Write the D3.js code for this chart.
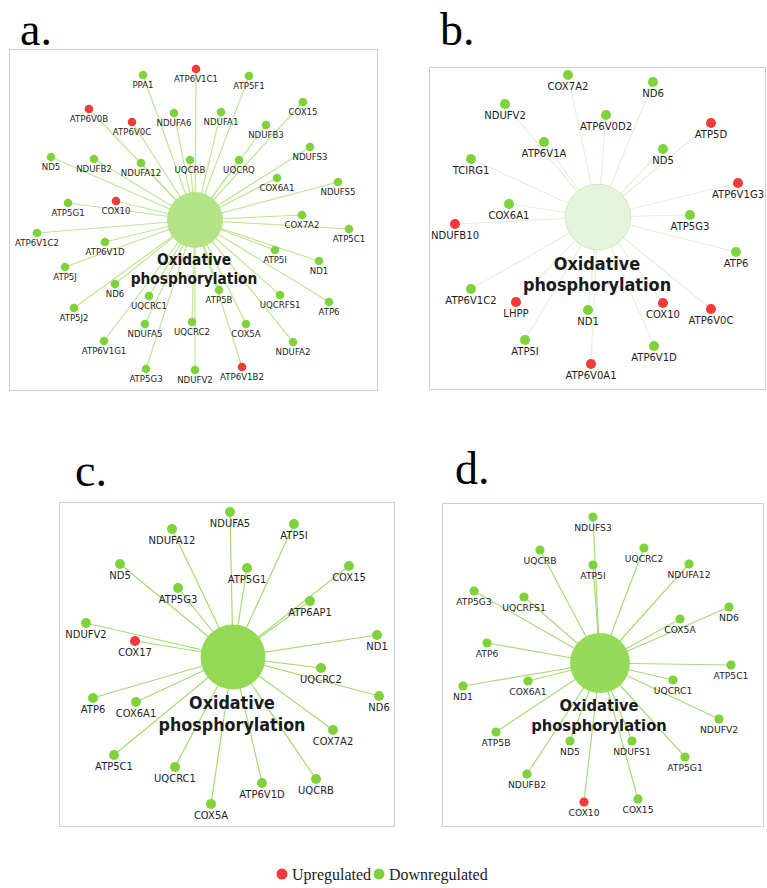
<!DOCTYPE html>
<html lang="en">
<head>
    <meta charset="utf-8">
    <title>Oxidative phosphorylation networks</title>
    <script type="text/javascript" src="https://cdnjs.cloudflare.com/ajax/libs/d3/7.8.5/d3.min.js"></script>
    <style>
        body { margin: 0; background: #fff; }
        svg { display: block; }
    </style>
</head>
<body>
<script type="text/javascript">
    // hub term shared by all four networks
    var hubName = ["Oxidative", "phosphorylation"];

    // a. gene nodes, offsets from the hub in layout units
    var genesA = ["ATP6V1C1", "PPA1", "ATP5F1", "COX15", "ATP6V0B", "NDUFA6", "NDUFA1", "ATP6V0C",
        "NDUFB3", "NDUFS3", "ND5", "NDUFB2", "NDUFA12", "UQCRB", "UQCRQ", "COX6A1", "NDUFS5",
        "ATP5G1", "COX10", "COX7A2", "ATP5C1", "ATP6V1C2", "ATP6V1D", "ATP5I", "ND1", "ATP5J",
        "ND6", "UQCRC1", "ATP5B", "UQCRFS1", "ATP6", "ATP5J2", "NDUFA5", "UQCRC2", "COX5A",
        "NDUFA2", "ATP6V1G1", "ATP5G3", "NDUFV2", "ATP6V1B2"];
    var dxA = [1, -52, 54, 108, -106, -21, 26, -63, 71, 115, -144, -101, -54, -5, 44, 82, 143,
        -127, -79, 107, 154, -158, -90, 80, 124, -130, -80, -46, 24, 85, 134, -121, -50, -3, 51,
        98, -91, -49, 0, 47];
    var dyA = [-151, -145, -144, -118, -111, -107, -108, -98, -95, -73, -63, -61, -57, -60, -60,
        -42, -38, -17, -19, -5, 9, 13, 22, 30, 41, 47, 64, 76, 70, 75, 82, 88, 104, 102, 104,
        122, 121, 149, 150, 147];
    var upA = ["ATP6V1C1", "ATP6V0B", "ATP6V0C", "COX10", "ATP6V1B2"];

    // b.
    var genesB = ["COX7A2", "NDUFV2", "ND6", "ATP6V0D2", "ATP6V1A", "ATP5D", "ND5", "TCIRG1",
        "ATP6V1G3", "COX6A1", "ATP5G3", "NDUFB10", "ATP6", "ATP6V1C2", "LHPP", "ND1", "COX10",
        "ATP6V0C", "ATP5I", "ATP6V1D", "ATP6V0A1"];
    var dxB = [-30, -93, 55, 8, -54, 113, 65, -127, 140, -89, 92, -143, 138, -127, -82, -10, 65,
        113, -73, 56, -7];
    var dyB = [-142, -113, -135, -102, -75, -94, -68, -58, -34, -13, -2, 7, 35, 72, 85, 93, 86,
        92, 123, 129, 147];
    var upB = ["ATP5D", "ATP6V1G3", "NDUFB10", "LHPP", "COX10", "ATP6V0C", "ATP6V0A1"];

    // c.
    var genesC = ["NDUFA5", "NDUFA12", "ATP5I", "ND5", "ATP5G1", "COX15", "ATP5G3", "ATP6AP1",
        "NDUFV2", "COX17", "ND1", "UQCRC2", "ND6", "ATP6", "COX6A1", "COX7A2", "ATP5C1",
        "UQCRC1", "UQCRB", "ATP6V1D", "COX5A"];
    var dxC = [-3, -61, 61, -113, 14, 116, -55, 77, -147, -98, 144, 88, 146, -140, -97, 100,
        -119, -58, 83, 29, -22];
    var dyC = [-145, -128, -133, -93, -89, -91, -69, -56, -34, -16, -22, 11, 39, 41, 45, 73, 98,
        110, 122, 126, 147];
    var upC = ["COX17"];

    // d.
    var genesD = ["NDUFS3", "UQCRB", "ATP5I", "UQCRC2", "NDUFA12", "ATP5G3", "UQCRFS1", "ND6",
        "COX5A", "ATP6", "ATP5C1", "ND1", "COX6A1", "UQCRC1", "NDUFV2", "ATP5B", "ND5",
        "NDUFS1", "ATP5G1", "NDUFB2", "COX10", "COX15"];
    var dxD = [-7, -60, -7, 44, 89, -126, -76, 129, 80, -113, 131, -137, -72, 73, 119, -104,
        -30, 32, 85, -73, -16, 38];
    var dyD = [-146, -113, -98, -115, -99, -72, -66, -56, -44, -20, 2, 23, 18, 17, 56, 69, 78,
        78, 94, 111, 139, 136];
    var upD = ["COX10"];

    var panelLetters = ["a.", "b.", "c.", "d."];
    var legendLabels = ["Upregulated", "Downregulated"];

    var w = 767;
    var h = 888;
    var red = "#f23a3a";
    var green = "#80d23c";

    // frame box, hub position, zoom factor and colours of each screenshot
    var panels = [
        {genes: genesA, dx: dxA, dy: dyA, up: upA, box: [9, 49, 368, 341], cx: 195, cy: 220, s: 1.0,
            letter: [20, 45], edge: "#bde693", hub: "#b4e486", hubStroke: "none"},
        {genes: genesB, dx: dxB, dy: dyB, up: upB, box: [429, 67, 336, 322], cx: 598, cy: 217, s: 1.17,
            letter: [440, 45], edge: "#e4f1d9", hub: "#e6f4dc", hubStroke: "#d3e7c3"},
        {genes: genesC, dx: dxC, dy: dyC, up: upC, box: [59, 502, 335, 324], cx: 233, cy: 657, s: 1.16,
            letter: [75, 486], edge: "#a3dc70", hub: "#93d955", hubStroke: "none"},
        {genes: genesD, dx: dxD, dy: dyD, up: upD, box: [442, 503, 321, 323], cx: 600, cy: 663, s: 1.07,
            letter: [455, 484], edge: "#a6dd76", hub: "#95da58", hubStroke: "none"}
    ];

    var svg = d3.select("body")
        .append("svg")
        .attr("width", w)
        .attr("height", h);

    panels.forEach(function(p, i) {
        var xScale = d3.scaleLinear().domain([0, 100]).range([p.cx, p.cx + 100]);
        var yScale = d3.scaleLinear().domain([0, 100]).range([p.cy, p.cy + 100]);
        var nodes = p.genes.map(function(g, j) {
            return {name: g, x: p.dx[j], y: p.dy[j], up: p.up.indexOf(g) >= 0};
        });

        var g = svg.append("g");

        g.append("rect")
            .attr("x", p.box[0] + 0.5)
            .attr("y", p.box[1] + 0.5)
            .attr("width", p.box[2])
            .attr("height", p.box[3])
            .attr("fill", "#fff")
            .attr("stroke", "#cfcfcf");

        g.selectAll("line")
            .data(nodes)
            .enter()
            .append("line")
            .attr("x1", xScale(0))
            .attr("y1", yScale(0))
            .attr("x2", function(d) { return xScale(d.x); })
            .attr("y2", function(d) { return yScale(d.y); })
            .attr("stroke", p.edge)
            .attr("stroke-width", 1.2);

        g.append("circle")
            .attr("cx", xScale(0))
            .attr("cy", yScale(0))
            .attr("r", 28 * p.s)
            .attr("fill", p.hub)
            .attr("stroke", p.hubStroke);

        g.selectAll("circle.gene")
            .data(nodes)
            .enter()
            .append("circle")
            .attr("class", "gene")
            .attr("cx", function(d) { return xScale(d.x); })
            .attr("cy", function(d) { return yScale(d.y); })
            .attr("r", 4.3 * p.s)
            .attr("fill", function(d) { return d.up ? red : green; });

        g.selectAll("text.gene")
            .data(nodes)
            .enter()
            .append("text")
            .attr("class", "gene")
            .text(function(d) { return d.name; })
            .attr("x", function(d) { return xScale(d.x); })
            .attr("y", function(d) { return yScale(d.y) + 13 * p.s; })
            .attr("text-anchor", "middle")
            .attr("font-family", "DejaVu Sans, sans-serif")
            .attr("font-size", (8.6 * p.s) + "px")
            .attr("fill", "#1e1e1e");

        g.selectAll("text.hub")
            .data(hubName)
            .enter()
            .append("text")
            .attr("class", "hub")
            .text(function(d) { return d; })
            .attr("x", xScale(0) - 1)
            .attr("y", function(d, k) { return yScale(0) + (45 + k * 18.5) * p.s; })
            .attr("text-anchor", "middle")
            .attr("font-family", "DejaVu Sans Condensed, DejaVu Sans, sans-serif")
            .attr("font-stretch", "condensed")
            .attr("font-weight", "bold")
            .attr("font-size", (15.3 * p.s) + "px")
            .attr("fill", "#1a1a1a");

        svg.append("text")
            .text(panelLetters[i])
            .attr("x", p.letter[0])
            .attr("y", p.letter[1])
            .attr("font-family", "Liberation Serif, serif")
            .attr("font-size", "46px")
            .attr("fill", "#000");
    });

    // legend
    var legend = svg.append("g");
    var legendX = [282, 379];
    legend.selectAll("circle")
        .data(legendLabels)
        .enter()
        .append("circle")
        .attr("cx", function(d, i) { return legendX[i]; })
        .attr("cy", 874)
        .attr("r", 5.5)
        .attr("fill", function(d, i) { return i === 0 ? red : green; });
    legend.selectAll("text")
        .data(legendLabels)
        .enter()
        .append("text")
        .text(function(d) { return d; })
        .attr("x", function(d, i) { return legendX[i] + 10; })
        .attr("y", 879.5)
        .attr("font-family", "Liberation Serif, serif")
        .attr("font-size", "16px")
        .attr("fill", "#222");
</script>
</body>
</html>
